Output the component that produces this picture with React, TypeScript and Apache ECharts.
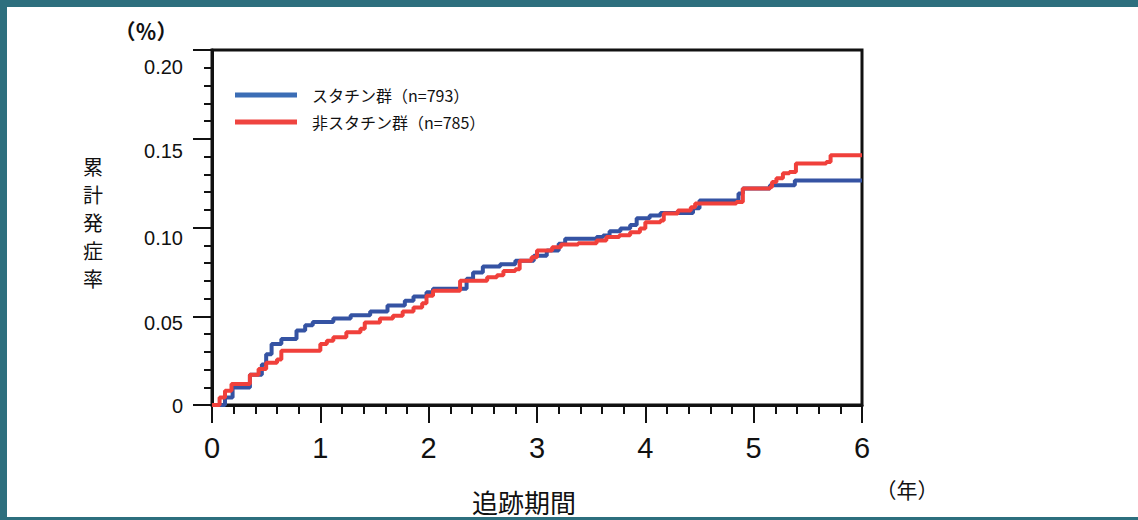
import React, { useEffect, useRef } from 'react';
import * as echarts from 'echarts';

// Cumulative incidence (step curves): time in years, rate
const statinTime = [0, 0.12, 0.19, 0.35, 0.46, 0.5, 0.55, 0.64, 0.78, 0.86, 0.93, 1.12, 1.28, 1.46, 1.62, 1.78, 1.86, 1.98, 2.04, 2.35, 2.41, 2.5, 2.66, 2.8, 2.97, 3.09, 3.2, 3.26, 3.55, 3.61, 3.67, 3.77, 3.86, 3.92, 4.04, 4.14, 4.44, 4.5, 4.86, 4.9, 5.15, 5.38, 6.0];
const statinRate = [0, 0.0042, 0.0098, 0.0171, 0.0228, 0.0286, 0.0343, 0.0372, 0.042, 0.0449, 0.0468, 0.0487, 0.0506, 0.0527, 0.056, 0.0587, 0.0611, 0.0635, 0.0655, 0.0711, 0.0746, 0.078, 0.0793, 0.0813, 0.0841, 0.087, 0.0908, 0.0937, 0.0947, 0.0955, 0.0979, 0.0994, 0.1014, 0.1052, 0.1068, 0.1081, 0.1108, 0.1152, 0.1192, 0.122, 0.1238, 0.1265, 0.1265];

const nonStatinTime = [0, 0.07, 0.12, 0.18, 0.35, 0.43, 0.5, 0.6, 0.64, 1.0, 1.06, 1.12, 1.24, 1.37, 1.41, 1.55, 1.67, 1.76, 1.86, 1.94, 1.98, 2.04, 2.29, 2.54, 2.63, 2.69, 2.8, 2.84, 2.95, 3.0, 3.14, 3.22, 3.38, 3.55, 3.64, 3.76, 3.86, 3.95, 4.0, 4.14, 4.17, 4.3, 4.42, 4.46, 4.84, 4.9, 5.15, 5.17, 5.21, 5.27, 5.33, 5.39, 5.67, 5.71, 6.0];
const nonStatinRate = [0, 0.0042, 0.008, 0.0118, 0.0171, 0.0203, 0.0238, 0.0257, 0.0305, 0.0343, 0.0362, 0.0382, 0.041, 0.0429, 0.0465, 0.0487, 0.0503, 0.0527, 0.055, 0.0573, 0.0616, 0.0644, 0.07, 0.072, 0.0731, 0.0755, 0.0765, 0.0813, 0.0832, 0.087, 0.0889, 0.0904, 0.0911, 0.0927, 0.0947, 0.0956, 0.0973, 0.0994, 0.103, 0.1039, 0.1079, 0.1096, 0.1114, 0.1135, 0.1143, 0.122, 0.1228, 0.1256, 0.1277, 0.1305, 0.1312, 0.1361, 0.1369, 0.1407, 0.1407];

const seriesNames = ['スタチン群（n=793）', '非スタチン群（n=785）'];
const yTickValues = [0, 0.05, 0.1, 0.15, 0.2];
const yTickLabels = ['0', '0.05', '0.10', '0.15', '0.20'];
const xTickLabels = ['0', '1', '2', '3', '4', '5', '6'];
const yAxisTitle = '累計発症率';
const xAxisTitle = '追跡期間';
const yUnit = '（％）';
const xUnit = '（年）';

const NUM_FONT = '"Liberation Sans", Arial, sans-serif';
const JP_FONT = '"Noto Sans CJK JP", "Noto Sans", sans-serif';
const BLUE = '#3553a3';
const RED = '#f0403b';
const TEAL = '#2d6f7e';
const INK = '#111111';

// each y label sits a little below its tick
const labelDrop = [1, 7, 10, 12, 17];

const pairs = (xs: number[], ys: number[]) => xs.map((x, i) => [x, ys[i]]);

export default function App() {
  const ref = useRef<HTMLDivElement>(null);

  useEffect(() => {
    document.body.style.margin = '0';
    if (!ref.current) return;
    const chart = echarts.init(ref.current, undefined, { renderer: 'svg' });

    const rich: Record<string, any> = {};
    labelDrop.forEach((d, i) => {
      rich['d' + i] = {
        fontSize: 20,
        fontFamily: NUM_FONT,
        color: INK,
        padding: [d * 2, 0, 0, 0],
      };
    });

    // vertical axis title, one character per line
    const titleChars = yAxisTitle.split('').map((ch, i) => ({
      type: 'text',
      x: 93,
      y: 166 + i * 28,
      style: {
        text: ch,
        font: `20px ${JP_FONT}`,
        fill: INK,
        align: 'center',
        verticalAlign: 'middle',
      },
    }));

    chart.setOption({
      animation: false,
      backgroundColor: '#ffffff',
      textStyle: { fontFamily: NUM_FONT },
      grid: {
        left: 212,
        top: 50,
        width: 650,
        height: 355,
        show: true,
        borderColor: INK,
        borderWidth: 3,
        backgroundColor: 'transparent',
      },
      legend: {
        orient: 'vertical',
        left: 230,
        top: 82,
        icon: 'rect',
        itemWidth: 62,
        itemHeight: 5,
        itemGap: 11,
        textStyle: {
          fontFamily: JP_FONT,
          fontSize: 16,
          lineHeight: 16,
          color: INK,
          padding: [0, 0, 0, 10],
        },
        data: [
          { name: seriesNames[0], itemStyle: { color: '#3b6db5' } },
          { name: seriesNames[1], itemStyle: { color: '#ef4440' } },
        ],
      },
      xAxis: {
        type: 'value',
        min: 0,
        max: 6,
        interval: 1,
        axisLine: { show: true, lineStyle: { color: INK, width: 3 } },
        axisTick: { show: true, length: 18, lineStyle: { color: INK, width: 2 } },
        minorTick: { show: true, splitNumber: 5, length: 9, lineStyle: { color: INK, width: 2 } },
        splitLine: { show: false },
        axisLabel: {
          fontSize: 29,
          fontFamily: NUM_FONT,
          color: INK,
          margin: 28,
          formatter: (v: number) => xTickLabels[Math.round(v)] ?? '',
        },
      },
      yAxis: {
        type: 'value',
        min: 0,
        max: 0.2,
        interval: 0.05,
        axisLine: { show: true, lineStyle: { color: INK, width: 3 } },
        axisTick: { show: true, length: 19, lineStyle: { color: INK, width: 2 } },
        minorTick: { show: true, splitNumber: 5, length: 8, lineStyle: { color: INK, width: 2 } },
        splitLine: { show: false },
        axisLabel: {
          margin: 29,
          rich,
          formatter: (v: number) => {
            const i = yTickValues.findIndex((t) => Math.abs(t - v) < 1e-9);
            return i < 0 ? '' : `{d${i}|${yTickLabels[i]}}`;
          },
        },
      },
      series: [
        {
          name: seriesNames[0],
          type: 'line',
          step: 'end',
          showSymbol: false,
          color: BLUE,
          lineStyle: { color: BLUE, width: 4 },
          data: pairs(statinTime, statinRate),
          z: 3,
        },
        {
          name: seriesNames[1],
          type: 'line',
          step: 'end',
          showSymbol: false,
          color: RED,
          lineStyle: { color: RED, width: 4 },
          data: pairs(nonStatinTime, nonStatinRate),
          z: 4,
        },
      ],
      graphic: [
        { type: 'rect', silent: true, shape: { x: 0, y: 0, width: 1138, height: 7 }, style: { fill: TEAL } },
        { type: 'rect', silent: true, shape: { x: 0, y: 0, width: 7, height: 520 }, style: { fill: TEAL } },
        { type: 'rect', silent: true, shape: { x: 0, y: 517, width: 1138, height: 3 }, style: { fill: TEAL } },
        ...titleChars,
        {
          type: 'text',
          x: 146,
          y: 30,
          style: { text: yUnit, font: `bold 21px ${JP_FONT}`, fill: INK, align: 'center', verticalAlign: 'middle' },
        },
        {
          type: 'text',
          x: 524,
          y: 501,
          style: { text: xAxisTitle, font: `26px ${JP_FONT}`, fill: INK, align: 'center', verticalAlign: 'middle' },
        },
        {
          type: 'text',
          x: 907,
          y: 489,
          style: { text: xUnit, font: `21px ${JP_FONT}`, fill: INK, align: 'center', verticalAlign: 'middle' },
        },
      ],
    });

    return () => chart.dispose();
  }, []);

  return <div ref={ref} style={{ width: 1138, height: 520 }} />;
}
